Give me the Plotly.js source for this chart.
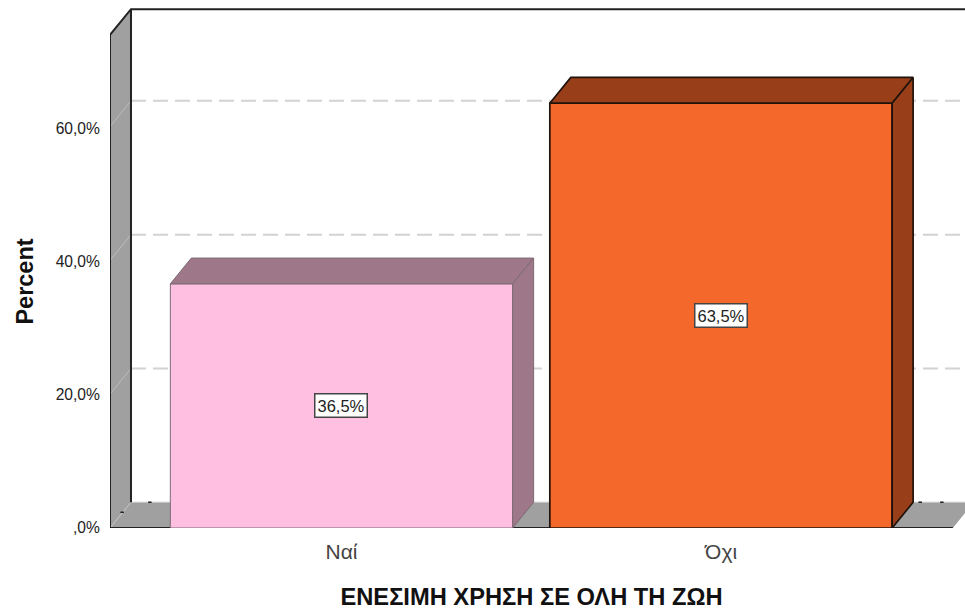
<!DOCTYPE html>
<html><head><meta charset="utf-8">
<script src="https://cdn.plot.ly/plotly-3.0.1.min.js"></script>
<style>html,body{margin:0;padding:0;background:#fff}</style>
</head><body><div id="c" style="width:965px;height:610px"></div>
<script>
const categories = ['Ναί', 'Όχι'];
const percents = [36.5, 63.5];
const percentLabels = ['36,5%', '63,5%'];
const gridValues = [20, 40, 60];
const tickValues = [0, 20, 40, 60];
const tickLabels = [',0%', '20,0%', '40,0%', '60,0%'];
const frontColors = ['#FEBFE1', '#F5682B'];
const topColors = ['#9E7789', '#983F1A'];
const edgeColors = ['#7d6a74', '#1f130b'];
const edgeWidths = [1, 1.7];

const W = 965, H = 610;
const xPos = categories.map((_, i) => i);
const barWidth = 0.902;
const xRange = [-0.61, 1.611];          // labelled axis: front plane of the chart
const yRange = [0, 73.7];
const yTickRange = [0, 74.14];          // tick labels sit at the reference's slightly tighter spacing
const xRangeAll = [-0.61, 1.643];       // drawing axes: reach to the canvas edge, for the depth
const yRangeAll = [0, 78.924];
const depthX = 0.0553, depthY = 3.85;
const wallGrey = '#A0A0A0', wallEdge = '#222222', gridGrey = '#D2D2D2';

function poly(xs, ys, fill, line, lw, over) {
  return {type:'scatter', mode: lw ? 'lines' : 'none', x:xs.concat(xs[0]), y:ys.concat(ys[0]),
    fill:'toself', fillcolor:fill, line:{color:line||fill, width:lw||0},
    hoverinfo:'skip', showlegend:false, xaxis:over?'x2':'x', yaxis:over?'y2':'y'};
}
function seg(xs, ys, color, w, dash) {
  return {type:'scatter', mode:'lines', x:xs, y:ys, line:{color, width:w, dash:dash||'solid'},
    hoverinfo:'skip', showlegend:false, xaxis:'x', yaxis:'y'};
}
const [x0, x1] = xRange, yT = yRange[1];
const traces = [];
// walls and floor
traces.push(poly([x0, x0+depthX, x0+depthX, x0], [0, depthY, yT+depthY, yT], wallGrey));
traces.push(poly([x0, x0+depthX, x1+depthX, x1], [0, depthY, depthY, 0], wallGrey));
// grid on back wall and side wall
gridValues.forEach(v => {
  traces.push(seg([x0+depthX, x1+depthX], [v+depthY, v+depthY], gridGrey, 2, '15px,7px'));
  traces.push(seg([x0, x0+depthX], [v, v+depthY], '#BDBDBD', 1));
});
traces.push(seg([x0, x0+depthX], [0, depthY], '#C4C4C4', 1));
traces.push(seg([x0+depthX, x1+depthX], [depthY, depthY], '#C8C8C8', 1));
// frame
traces.push(seg([x0, x0, x0+depthX, x1+depthX], [0, yT, yT+depthY, yT+depthY], wallEdge, 2));
traces.push(seg([x0+depthX, x0+depthX], [depthY, yT+depthY], wallEdge, 2));
traces.push(seg([x0, x1], [0, 0], wallEdge, 2.2));
// small remnants along the floor/back wall join
traces.push({type:'scatter', mode:'markers', x:[-0.505, 1.525, 1.582, -0.578], y:[depthY, depthY, depthY, 2.35],
  marker:{symbol:'line-ew', size:2.5, line:{color:'#222', width:1.5}},
  hoverinfo:'skip', showlegend:false, xaxis:'x', yaxis:'y'});
// bar fronts
traces.push({type:'bar', x:xPos, y:percents, width:barWidth, xaxis:'x2', yaxis:'y2',
  marker:{color:frontColors, line:{color:edgeColors, width:edgeWidths}}, hoverinfo:'skip', showlegend:false});
// bar top and side faces
percents.forEach((v, i) => {
  const l = xPos[i]-barWidth/2, r = xPos[i]+barWidth/2;
  traces.push(poly([l, l+depthX, r+depthX, r], [v, v+depthY, v+depthY, v], topColors[i], edgeColors[i], edgeWidths[i], true));
  traces.push(poly([r, r+depthX, r+depthX, r], [0, depthY, v+depthY, v], topColors[i], edgeColors[i], edgeWidths[i], true));
});
// empty trace that keeps the labelled axes in the figure
traces.push({type:'scatter', mode:'none', x:xPos, y:percents, xaxis:'x3', yaxis:'y3', hoverinfo:'skip', showlegend:false});

const annotations = percents.map((v, i) => ({
  x:xPos[i], y:v/2, xref:'x2', yref:'y2', text:percentLabels[i], showarrow:false,
  font:{family:'Liberation Sans, Arial, sans-serif', size:16.5, color:'#222'},
  bgcolor:'#fff', bordercolor:'#444', borderwidth:1.5, borderpad:2
}));
const hidden = {visible:false, fixedrange:true};
const layout = {
  width:W, height:H, margin:{l:0, r:0, t:0, b:0},
  paper_bgcolor:'#fff', plot_bgcolor:'rgba(0,0,0,0)', showlegend:false, annotations,
  font:{family:'Liberation Sans, Arial, sans-serif'},
  xaxis:{...hidden, range:xRangeAll, domain:[110/W, 1], anchor:'y'},
  yaxis:{...hidden, range:yRangeAll, domain:[82/H, 1], anchor:'x'},
  xaxis2:{...hidden, range:xRangeAll, overlaying:'x', domain:[110/W, 1], anchor:'y2'},
  yaxis2:{...hidden, range:yRangeAll, overlaying:'y', domain:[82/H, 1], anchor:'x2'},
  xaxis3:{range:xRange, domain:[110/W, 953/W], anchor:'y3', tickmode:'array', tickvals:xPos, ticktext:categories,
    showgrid:false, zeroline:false, showline:false, ticks:'outside', ticklen:5, tickcolor:'rgba(0,0,0,0)',
    tickfont:{size:21, color:'#444'},
    title:{text:'ΕΝΕΣΙΜΗ ΧΡΗΣΗ ΣΕ ΟΛΗ ΤΗ ΖΩΗ', font:{size:23.7, color:'#111', weight:'bold'}, standoff:27}},
  yaxis3:{range:yTickRange, domain:[82/H, 575/H], anchor:'x3', tickmode:'array', tickvals:tickValues, ticktext:tickLabels,
    showgrid:false, zeroline:false, showline:false, ticks:'outside', ticklen:6, tickcolor:'rgba(0,0,0,0)',
    tickfont:{size:15.6, color:'#222'},
    title:{text:'Percent', font:{size:23.5, color:'#111', weight:'bold'}, standoff:15}},
};
Plotly.newPlot('c', traces, layout, {displayModeBar:false, staticPlot:true});
</script></body></html>
